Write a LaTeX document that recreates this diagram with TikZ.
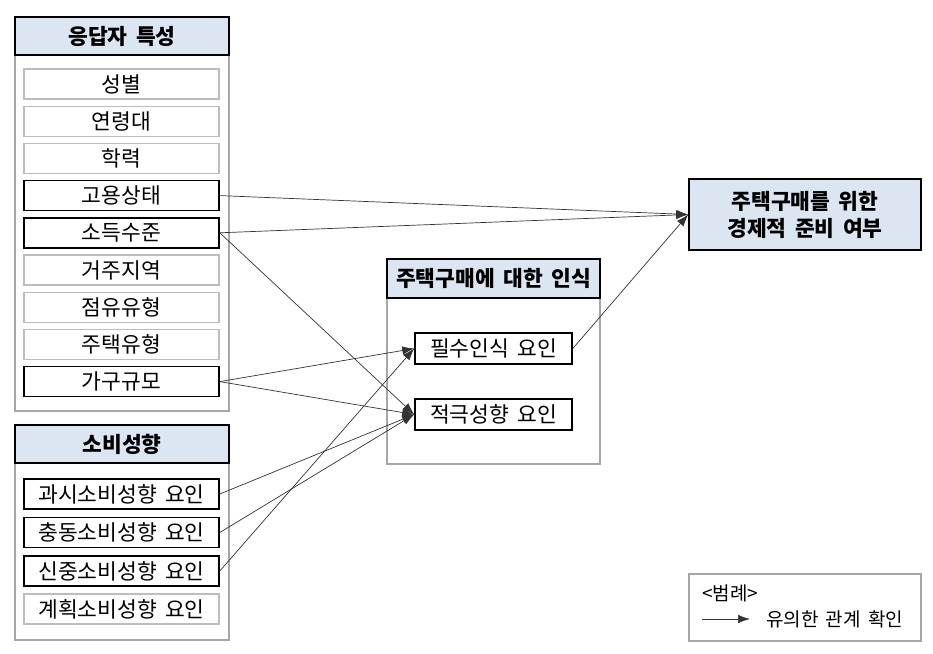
\documentclass[tikz,border=0pt]{standalone}
\usepackage{fontspec}
\setmainfont{Noto Sans CJK KR}[WordSpace=1.7]
\usetikzlibrary{arrows.meta}
\definecolor{hdr}{HTML}{DCE6F2}
\definecolor{gbox}{HTML}{A6A6A6}
\definecolor{gitem}{HTML}{BDBDBD}
\definecolor{arr}{HTML}{333333}
\tikzset{
  panel/.style={draw=gbox, line width=1.4pt},
  hdrbox/.style={draw=black, fill=hdr, line width=1.6pt, inner sep=0pt, font=\fontsize{21.5}{24}\selectfont\bfseries},
  item/.style={draw=gitem, line width=1.2pt, minimum width=195pt, minimum height=30pt, inner sep=0pt, font=\fontsize{21.5}{24}\selectfont},
  sig/.style={item, draw=black, line width=1.6pt},
  link/.style={draw=arr, line width=0.7pt, -{Latex[length=12pt,width=8.5pt]}},
  legtext/.style={inner sep=0pt, anchor=west, font=\fontsize{19}{22}\selectfont}
}
\begin{document}
\begin{tikzpicture}[x=1pt,y=-1pt]
\useasboundingbox (0,0) rectangle (933,653);
% panel 1
\draw[panel] (15,17) rectangle (229,411);
\node[hdrbox, minimum width=214pt, minimum height=38pt] (h1) at (122,36) {응답자 특성};
\node[item] (a1) at (121.5,84) {성별};
\node[item] (a2) at (121.5,121.2) {연령대};
\node[item] (a3) at (121.5,158.4) {학력};
\node[sig]  (a4) at (121.5,195.6) {고용상태};
\node[sig]  (a5) at (121.5,232.8) {소득수준};
\node[item] (a6) at (121.5,270) {거주지역};
\node[item] (a7) at (121.5,307.2) {점유유형};
\node[item] (a8) at (121.5,344.4) {주택유형};
\node[sig]  (a9) at (121.5,381.6) {가구규모};
% panel 2
\draw[panel] (15,425) rectangle (229,640);
\node[hdrbox, minimum width=214pt, minimum height=38pt] (h2) at (122,444) {소비성향};
\node[sig]  (b1) at (121.5,494) {과시소비성향 요인};
\node[sig]  (b2) at (121.5,532.5) {충동소비성향 요인};
\node[sig]  (b3) at (121.5,571) {신중소비성향 요인};
\node[item] (b4) at (121.5,609) {계획소비성향 요인};
% middle panel
\draw[panel] (387,259) rectangle (600,464);
\node[hdrbox, minimum width=213pt, minimum height=39pt] (h3) at (493.5,278.5) {주택구매에 대한 인식};
\node[sig, minimum width=157pt, minimum height=31pt] (m1) at (493.5,348.5) {필수인식 요인};
\node[sig, minimum width=157pt, minimum height=31pt] (m2) at (493.5,414.5) {적극성향 요인};
% outcome
\node[hdrbox, minimum width=232pt, minimum height=71pt, align=center, font=\fontsize{21.5}{27}\selectfont\bfseries] (r) at (805,214.5) {주택구매를 위한\\경제적 준비 여부};
% legend
\node[draw=gbox, line width=1.2pt, minimum width=232pt, minimum height=67pt, inner sep=0pt] (leg) at (805,607.5) {};
\node[legtext] (lt1) at (702,593) {<범례>};
\coordinate (la) at (702,619);
\coordinate (lb) at (750,619);
\draw[link] (la) -- (lb);
\node[legtext] (lt2) at (766,619) {유의한 관계 확인};
% links
\draw[link] (a4.east) -- (r.west);
\draw[link] (a5.east) -- (r.west);
\draw[link] (m1.east) -- (r.west);
\draw[link] (a5.east) -- (m2.west);
\draw[link] (a9.east) -- (m1.west);
\draw[link] (a9.east) -- (m2.west);
\draw[link] (b1.east) -- (m2.west);
\draw[link] (b2.east) -- (m2.west);
\draw[link] (b3.east) -- (m1.west);
\end{tikzpicture}
\end{document}
